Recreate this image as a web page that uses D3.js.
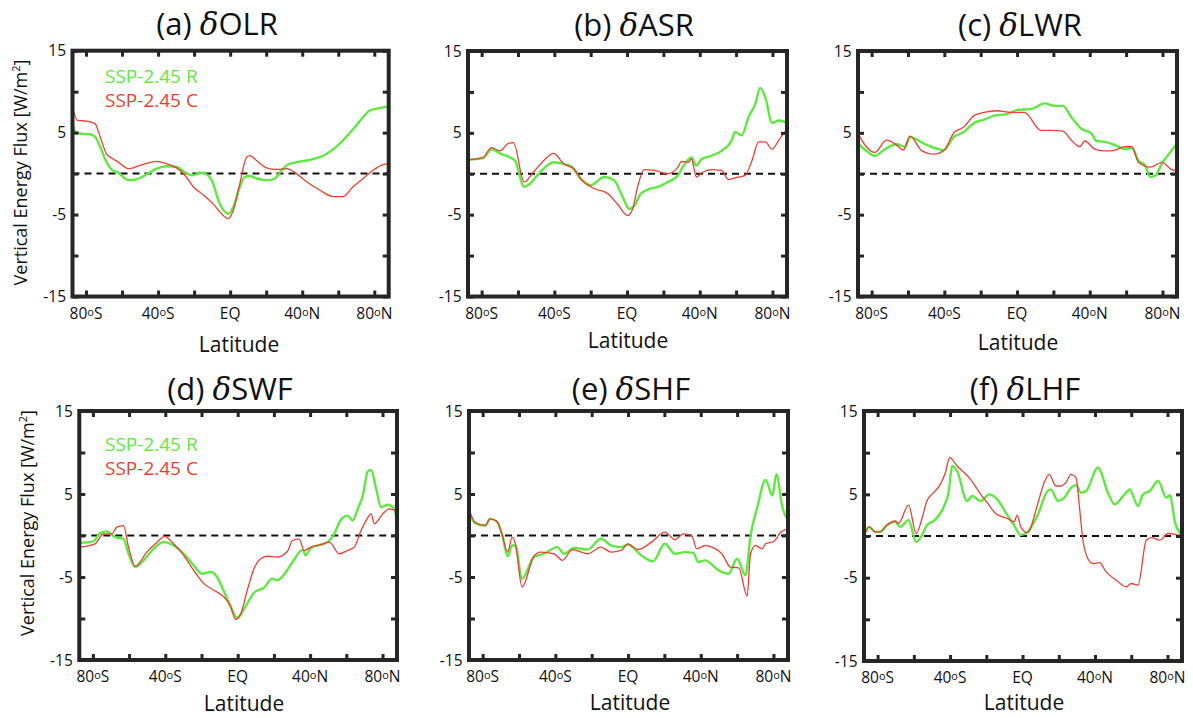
<!DOCTYPE html>
<html>
<head>
    <title>Vertical energy flux changes by latitude</title>
    <script src="https://d3js.org/d3.v7.min.js"></script>
    <style>
        body { margin: 0; background: #fff; }
        text { font-family: "Open Sans", sans-serif; fill: #111; }
    </style>
</head>
<body>
<script>
    var width = 1193, height = 718;
    var green = "#5fe842", red = "#ec3f33", frameColor = "#262626";

    // tick values and labels
    var yTicks = [-15, -10, -5, 0, 5, 10, 15];
    var yTickLabels = [15, 5, -5, -15];
    var xTicks = [-80, -60, -40, -20, 0, 20, 40, 60, 80];
    var xLabelLats = [-80, -40, 0, 40, 80];
    var xLabelNums = ["80", "40", "EQ", "40", "80"];
    var xLabelHemi = ["S", "S", "", "N", "N"];

    var panelLetters = ["a", "b", "c", "d", "e", "f"];
    var panelNames = ["OLR", "ASR", "LWR", "SWF", "SHF", "LHF"];
    var legendNames = ["SSP-2.45 R", "SSP-2.45 C"];

    // [latitude, W/m2]
    var olrR = [[-87.6,6.2],[-86.1,5.1],[-83.3,4.9],[-77.8,4.8],[-75.0,4.5],[-72.2,3.3],[-68.6,1.4],[-65.8,0.5],[-62.1,0.1],[-56.5,-0.8],[-51.9,-0.7],[-46.4,-0.1],[-40.8,0.6],[-35.3,0.9],[-29.7,0.8],[-24.2,0],[-20.5,-0.2],[-16.8,0.1],[-14.0,0],[-10.3,-0.8],[-5.7,-3.7],[-1.1,-4.9],[1.7,-4.1],[5.4,-1.6],[8.2,-0.4],[10.9,-0.3],[14.6,-0.6],[20.2,-0.8],[24.8,-0.6],[28.5,0.4],[31.3,1.0],[35.0,1.3],[42.4,1.6],[49.7,2.0],[53.4,2.4],[59.0,3.3],[64.5,4.5],[70.1,5.9],[73.8,6.9],[77.5,7.7],[83.0,8.0],[87.6,8.2]];
    var olrC = [[-87.6,8.2],[-84.8,6.5],[-79.6,6.4],[-75.0,6.1],[-72.2,4.5],[-68.6,2.4],[-65.8,1.9],[-62.1,1.4],[-56.5,0.6],[-50.1,1.0],[-40.8,1.5],[-35.3,1.2],[-29.7,0.7],[-25.1,-0.2],[-20.5,-1.6],[-14.9,-2.6],[-9.4,-3.7],[-4.8,-4.9],[-1.1,-5.5],[1.7,-4.5],[5.4,-1.2],[9.1,2.0],[10.9,2.2],[14.6,1.6],[20.2,0.7],[25.7,0.5],[31.3,0.6],[36.8,0],[42.4,-1.0],[49.7,-2.0],[57.1,-2.8],[62.7,-2.8],[68.2,-1.6],[73.8,-0.6],[79.3,0.4],[84.9,1.1],[87.6,1.2]];

    var asrR = [[-87.5,1.7],[-79.2,1.9],[-74.6,3.0],[-69.9,2.5],[-64.4,2.0],[-61.6,1.6],[-56.6,-1.6],[-53.3,-1.2],[-47.8,0.2],[-40.4,1.4],[-34.8,1.2],[-30.2,0.8],[-25.6,-0.6],[-20.0,-1.4],[-12.6,-0.4],[-7.1,-0.8],[-2.5,-2.8],[1.2,-4.3],[4.0,-3.9],[7.7,-2.4],[13.2,-1.8],[16.9,-1.6],[22.5,-1.0],[28.0,-0.2],[31.7,1.2],[35.4,2.0],[38.2,1.0],[41.0,1.8],[46.5,2.2],[52.0,2.8],[57.6,4.1],[59.4,5.1],[63.1,4.7],[66.8,6.9],[70.5,8.5],[73.3,10.5],[76.1,9.3],[79.8,6.2],[83.5,6.5],[87.2,6.3],[88,4.5]];
    var asrC = [[-87.5,1.7],[-79.2,2.0],[-74.6,3.2],[-69.9,2.8],[-65.3,3.7],[-62.5,3.8],[-56.6,-1.0],[-51.5,0.2],[-45.9,1.6],[-40.4,2.5],[-34.8,1.2],[-29.3,0.6],[-24.7,-0.8],[-18.2,-1.8],[-10.8,-2.4],[-5.3,-3.7],[0.3,-5.1],[3.1,-4.3],[5.8,-1.6],[9.5,0.5],[15.1,0.4],[22.5,0],[28.0,0.8],[29.9,1.5],[33.6,1.4],[35.4,1.8],[38.2,-0.4],[41.0,0.1],[46.5,0.5],[52.0,0.4],[55.7,-0.7],[59.4,-0.5],[65.0,-0.2],[68.7,1.6],[72.4,3.9],[76.1,3.9],[79.8,3.0],[83.5,4.1],[87.2,5.1],[88,4.9]];

    var lwrR = [[-87.5,3.7],[-82.9,2.8],[-78.3,2.2],[-72.7,3.0],[-66.2,3.6],[-61.6,3.3],[-58.9,4.5],[-51.5,3.7],[-40.4,2.9],[-34.8,4.5],[-29.3,5.1],[-23.7,6.2],[-18.2,6.6],[-12.6,7.1],[-5.3,7.3],[0.3,7.8],[7.7,7.9],[15.1,8.6],[20.6,8.3],[25.2,8.3],[29.9,6.9],[35.4,5.5],[41.0,4.9],[43.7,4.0],[48.4,3.9],[53.9,3.5],[59.4,3.0],[63.1,3.2],[66.8,1.6],[70.5,1.0],[73.3,-0.4],[76.1,-0.2],[79.8,1.3],[83.5,2.4],[88,3.7]];
    var lwrC = [[-87.5,4.9],[-82.9,3.3],[-78.3,2.6],[-71.8,4.1],[-66.2,3.5],[-62.5,2.9],[-58.9,4.6],[-52.4,2.8],[-45.9,2.4],[-40.4,2.8],[-34.8,5.0],[-29.3,5.7],[-23.7,7.1],[-18.2,7.5],[-10.8,7.7],[-3.4,7.5],[4.0,7.5],[13.2,5.3],[18.8,5.3],[25.2,5.2],[29.9,4.1],[34.5,3.3],[37.3,4.0],[42.8,3.0],[47.4,2.8],[52.0,2.8],[59.4,3.3],[63.1,3.3],[66.8,1.4],[73.3,0.8],[79.8,1.4],[84.4,0.6],[88,0.3]];

    var swfR = [[-87.5,-0.9],[-79.7,-0.7],[-76.0,0.3],[-72.3,0.5],[-67.7,-0.2],[-63.1,-0.4],[-60.3,-2.2],[-56.6,-3.8],[-52.0,-3.0],[-46.5,-1.6],[-40.9,-0.8],[-35.4,-1.2],[-29.8,-2.2],[-24.3,-3.6],[-19.7,-4.6],[-15.0,-4.4],[-11.4,-5.0],[-7.7,-6.7],[-4.0,-8.5],[-0.3,-9.9],[3.4,-8.9],[9.0,-6.9],[14.5,-6.3],[19.1,-5.2],[21.9,-5.4],[25.6,-4.7],[31.2,-2.9],[35.8,-1.7],[37.6,-2.4],[40.4,-1.5],[45.9,-1.1],[49.6,-0.8],[53.3,0.2],[57.0,1.9],[60.7,2.4],[63.5,1.8],[66.3,3.2],[69.1,4.8],[71.8,7.7],[73.7,7.9],[76.4,5.7],[79.2,3.4],[82.9,3.7],[86.6,3.2],[88,1.4]];
    var swfC = [[-87.5,-1.4],[-78.8,-1.0],[-74.2,0.2],[-69.6,0.2],[-66.8,1.0],[-63.1,1.2],[-60.3,-1.4],[-56.6,-3.7],[-50.2,-2.0],[-44.6,-0.8],[-40.4,-0.1],[-35.4,-1.0],[-29.8,-2.4],[-24.3,-4.2],[-18.7,-5.8],[-13.2,-6.6],[-7.7,-7.4],[-4.0,-8.5],[-1.2,-10.1],[1.6,-9.5],[5.3,-6.6],[9.0,-4.0],[12.7,-2.8],[16.4,-2.5],[21.9,-2.6],[27.5,-1.9],[30.2,-0.6],[33.9,-0.4],[36.7,-1.8],[40.4,-1.4],[45.9,-1.1],[50.6,-0.8],[56.1,-2.2],[60.7,-1.8],[64.4,-1.4],[68.1,0.6],[70.9,1.8],[73.7,2.6],[75.5,1.4],[80.1,2.6],[83.8,3.2],[87.5,3.0]];

    var shfR = [[-87.5,2.6],[-84.2,1.5],[-78.6,1.2],[-75.9,2.0],[-72.2,1.7],[-69.4,0.2],[-66.2,-2.5],[-63.8,-1.2],[-62.0,-1.2],[-58.3,-5.2],[-51.8,-2.6],[-46.3,-2.2],[-38.9,-1.4],[-35.2,-2.2],[-29.6,-1.5],[-22.3,-1.7],[-14.9,-0.4],[-9.3,-1.2],[-3.8,-1.4],[-0.1,-1.1],[7.3,-2.4],[13.8,-3.1],[20.2,-1.0],[25.8,-2.2],[31.3,-2.0],[35.9,-2.1],[38.7,-3.2],[42.4,-3.0],[49.8,-4.2],[55.3,-4.6],[60.0,-2.8],[64.6,-4.8],[67.4,0],[71.1,3.4],[75.7,6.7],[79.4,4.8],[81.6,7.4],[84.9,3.4],[88,1.8]];
    var shfC = [[-87.5,3.2],[-84.2,1.6],[-78.6,1.2],[-75.9,2.0],[-72.2,1.7],[-69.4,0.2],[-66.2,-2.0],[-63.8,-0.2],[-62.0,-1.0],[-58.3,-6.2],[-51.8,-2.5],[-48.1,-2.0],[-40.7,-2.2],[-36.1,-3.0],[-30.6,-1.7],[-22.3,-2.2],[-14.9,-1.4],[-9.3,-2.0],[-3.8,-1.8],[-0.1,-1.0],[5.4,-1.7],[12.9,-0.8],[20.2,0.4],[25.8,-0.5],[30.4,0.2],[35.0,0],[37.8,-1.6],[42.4,-1.2],[46.1,-1.4],[51.6,-2.2],[56.3,-3.8],[60.9,-3.9],[65.5,-7.3],[67.4,-2.2],[70.1,-1.2],[73.8,-1.6],[75.7,-1.0],[80.3,-0.7],[84.0,0.4],[88,0.8]];

    var lhfR = [[-87.5,0.1],[-84.6,1.1],[-81.4,0.5],[-78.6,0.5],[-74.9,1.3],[-70.3,1.7],[-67.5,1.1],[-62.9,1.9],[-58.7,-0.7],[-55.5,0.1],[-52.8,1.3],[-49.1,1.8],[-43.5,3.5],[-40.7,5.4],[-38.9,8.4],[-36.1,7.8],[-30.6,4.2],[-27.8,4.8],[-23.1,4.2],[-18.5,5.0],[-13.9,4.4],[-8.4,2.5],[-4.7,1.3],[-1.0,0.1],[2.7,0.5],[8.3,2.5],[13.8,5.4],[15.7,5.6],[19.4,4.2],[23.1,4.6],[26.8,5.8],[29.5,6.1],[32.3,5.2],[35.1,5.4],[41.6,8.2],[47.1,5.2],[50.8,3.8],[56.3,5.0],[59.1,5.6],[63.7,3.6],[66.5,5.0],[70.2,5.4],[74.8,6.6],[79.4,4.6],[81.3,4.9],[84.1,1.7],[87.8,0.1]];
    var lhfC = [[-87.5,0],[-84.6,1.1],[-81.4,0.5],[-78.6,0.5],[-74.9,1.3],[-70.3,1.8],[-68.5,1.5],[-62.9,3.7],[-58.7,0.3],[-55.5,2.1],[-52.8,4.2],[-49.1,5.2],[-45.4,6.2],[-42.6,7.6],[-40.2,9.4],[-36.1,8.4],[-28.7,6.8],[-23.1,5.0],[-19.5,4.0],[-14.9,2.7],[-8.4,2.1],[-4.7,1.7],[-2.9,2.5],[-1.0,1.1],[2.7,0.4],[8.3,3.8],[11.9,6.4],[14.7,7.4],[18.4,6.0],[21.2,6.0],[23.9,6.4],[26.8,7.4],[29.5,7.0],[31.4,3.5],[33.2,-0.3],[36.0,-2.7],[38.8,-3.3],[42.4,-3.2],[46.1,-4.3],[51.7,-5.3],[57.2,-6.1],[60.0,-5.7],[63.7,-5.9],[68.3,-0.5],[71.1,-0.2],[75.7,-0.5],[80.4,0.3],[87.8,0]];

    var seriesR = [olrR, asrR, lwrR, swfR, shfR, lhfR];
    var seriesC = [olrC, asrC, lwrC, swfC, shfC, lhfC];

    // where each panel sits on the page
    var boxes = [
        {x0: 72.5, x1: 388.7, y0: 50.7, y1: 296.5, tx: 217, ty: 35, lx: 239, ly: 352},
        {x0: 468, x1: 787, y0: 51, y1: 296.5, tx: 634, ty: 36, lx: 628, ly: 348},
        {x0: 858, x1: 1177, y0: 51, y1: 296.5, tx: 1020, ty: 36, lx: 1018, ly: 350},
        {x0: 79.3, x1: 397, y0: 411, y1: 660, tx: 230, ty: 400, lx: 244, ly: 711},
        {x0: 469, x1: 788, y0: 411, y1: 660, tx: 631, ty: 400, lx: 630, ly: 709.5},
        {x0: 864, x1: 1182, y0: 411, y1: 661, tx: 1025, ty: 400, lx: 1024, ly: 709.5}
    ];
    var yLabelPos = {0: [20.5, 172.5], 3: [28, 523]};
    var legendPos = {0: [105, 83], 3: [105, 451]};

    var svg = d3.select("body").append("svg")
        .attr("width", width)
        .attr("height", height);

    boxes.forEach(function(b, i) {
        var x = d3.scaleLinear().domain([-87.5, 88]).range([b.x0, b.x1]);
        var y = d3.scaleLinear().domain([-15, 15]).range([b.y1, b.y0]);
        var g = svg.append("g");

        g.append("clipPath").attr("id", "clip" + i)
            .append("rect")
            .attr("x", b.x0).attr("y", b.y0)
            .attr("width", b.x1 - b.x0).attr("height", b.y1 - b.y0);

        // zero line
        g.append("line")
            .attr("x1", b.x0).attr("x2", b.x1)
            .attr("y1", y(0)).attr("y2", y(0))
            .attr("stroke", "#111")
            .attr("stroke-width", 2)
            .attr("stroke-dasharray", "7,5");

        var line = d3.line()
            .x(function(d) { return x(d[0]); })
            .y(function(d) { return y(d[1]); })
            .curve(d3.curveMonotoneX);

        var plot = g.append("g").attr("clip-path", "url(#clip" + i + ")");
        plot.append("path").datum(seriesR[i])
            .attr("d", line)
            .attr("fill", "none")
            .attr("stroke", green)
            .attr("stroke-width", 2.4)
            .attr("stroke-linejoin", "round");
        plot.append("path").datum(seriesC[i])
            .attr("d", line)
            .attr("fill", "none")
            .attr("stroke", red)
            .attr("stroke-width", 1.3)
            .attr("stroke-linejoin", "round");

        // inward ticks on all four sides
        var axes = [
            [d3.axisBottom(x).tickValues(xTicks), "translate(0," + b.y1 + ")"],
            [d3.axisTop(x).tickValues(xTicks), "translate(0," + b.y0 + ")"],
            [d3.axisLeft(y).tickValues(yTicks), "translate(" + b.x0 + ",0)"],
            [d3.axisRight(y).tickValues(yTicks), "translate(" + b.x1 + ",0)"]
        ];
        axes.forEach(function(a) {
            var ag = g.append("g").attr("transform", a[1])
                .call(a[0].tickSize(-6).tickFormat(""));
            ag.select(".domain").remove();
            ag.selectAll(".tick line")
                .attr("stroke", frameColor)
                .attr("stroke-width", 3);
        });

        g.append("rect")
            .attr("x", b.x0).attr("y", b.y0)
            .attr("width", b.x1 - b.x0).attr("height", b.y1 - b.y0)
            .attr("fill", "none")
            .attr("stroke", frameColor)
            .attr("stroke-width", 4);

        // y tick labels
        g.selectAll(".ylab").data(yTickLabels).enter().append("text")
            .attr("x", b.x0 - 6.5)
            .attr("y", function(d) { return y(d); })
            .attr("dy", "0.36em")
            .attr("text-anchor", "end")
            .attr("font-size", 15.5)
            .text(function(d) { return d; });

        // x tick labels
        xLabelLats.forEach(function(lat, k) {
            var t = g.append("text")
                .attr("x", x(lat))
                .attr("y", b.y1 + 22)
                .attr("text-anchor", "middle")
                .attr("font-size", 15.5);
            t.append("tspan").text(xLabelNums[k]);
            if (xLabelHemi[k]) {
                t.append("tspan").attr("font-size", 11).attr("dy", -3).text("o");
                t.append("tspan").attr("dy", 3).text(xLabelHemi[k]);
            }
        });

        g.append("text")
            .attr("x", b.lx).attr("y", b.ly)
            .attr("text-anchor", "middle")
            .attr("font-size", 21)
            .text("Latitude");

        var title = g.append("text")
            .attr("x", b.tx).attr("y", b.ty)
            .attr("text-anchor", "middle")
            .attr("font-size", 31);
        title.append("tspan").text("(" + panelLetters[i] + ") ");
        title.append("tspan").attr("font-style", "italic").attr("font-family", "DejaVu Serif").text("\u03b4");
        title.append("tspan").text(panelNames[i]);

        if (yLabelPos[i]) {
            var yl = g.append("text")
                .attr("transform", "translate(" + yLabelPos[i][0] + "," + yLabelPos[i][1] + ") rotate(-90)")
                .attr("text-anchor", "middle")
                .attr("dy", "0.35em")
                .attr("font-size", 18);
            yl.append("tspan").text("Vertical Energy Flux [W/m");
            yl.append("tspan").attr("font-size", 11).attr("dy", -7).text("2");
            yl.append("tspan").attr("dy", 7).text("]");
        }

        if (legendPos[i]) {
            [green, red].forEach(function(c, k) {
                g.append("text")
                    .attr("x", legendPos[i][0])
                    .attr("y", legendPos[i][1] + k * 24)
                    .attr("font-size", 19)
                    .style("fill", c)
                    .text(legendNames[k]);
            });
        }
    });
</script>
</body>
</html>
